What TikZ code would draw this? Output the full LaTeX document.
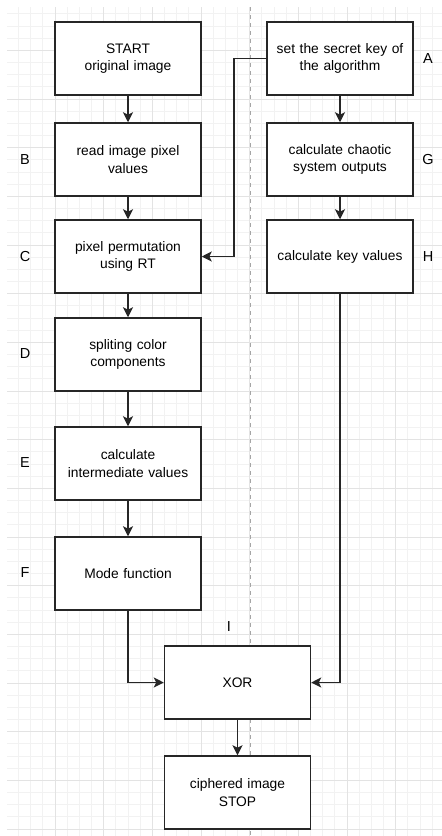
\documentclass[tikz,border=0pt]{standalone}
\usepackage{fontspec}
\setmainfont{Liberation Sans}
\usetikzlibrary{arrows.meta}
\begin{document}
\begin{tikzpicture}[x=1pt,y=-1pt,
  box/.style={draw=black!85, line width=1.5pt, fill=white, minimum width=146pt, minimum height=73pt, text width=142pt, align=center, inner sep=0pt, font=\fontsize{13.8}{17.5}\selectfont},
  lbl/.style={font=\fontsize{14.5}{16}\selectfont, inner sep=0pt},
  arr/.style={draw=black!85, line width=1.5pt, -{Stealth[length=10pt,width=10pt,inset=2.5pt]}},
  minorgrid/.style={draw=black!5, line width=0.8pt},
  majorgrid/.style={draw=black!11, line width=0.8pt},
  divider/.style={draw=black!35, line width=0.8pt, dash pattern=on 4pt off 4pt}]
\useasboundingbox (0,0) rectangle (442,836);
\fill[white] (0,0) rectangle (442,836);
% grid
\begin{scope}
\clip (7,7) rectangle (442,836);
\foreach \k in {-4,...,31} {\draw[minorgrid] ({55+12.1667*\k},0) -- ({55+12.1667*\k},836);}
\foreach \k in {-4,...,65} {\draw[minorgrid] (0,{50.3+12.1667*\k}) -- (442,{50.3+12.1667*\k});}
\foreach \k in {-1,...,8} {\draw[majorgrid] ({55+48.667*\k},0) -- ({55+48.667*\k},836);}
\foreach \k in {-1,...,16} {\draw[majorgrid] (0,{50.3+48.667*\k}) -- (442,{50.3+48.667*\k});}
\end{scope}
% divider
\coordinate (dtop) at (250.7,7);
\coordinate (dbot) at (250.7,836);
\draw[divider] (dtop) -- (dbot);
% boxes
\node[box] (start) at (128,58.5) {START\\original image};
\node[box] (read) at (128,159.5) {read image pixel\\values};
\node[box] (perm) at (128,256.5) {pixel permutation\\using RT};
\node[box] (split) at (128,354.5) {spliting color\\components};
\node[box] (inter) at (128,463.5) {calculate\\intermediate values};
\node[box] (mode) at (128,573.5) {Mode function};
\node[box] (key) at (340,58.5) {set the secret key of\\the algorithm};
\node[box] (chaos) at (340,159.5) {calculate chaotic\\system outputs};
\node[box] (keyval) at (340,256.5) {calculate key values};
\node[box] (xor) at (237.5,682.5) {XOR};
\node[box] (stop) at (237.5,792.5) {ciphered image\\STOP};
% letter labels
\node[lbl] (la) at (428,59) {A};
\node[lbl] (lb) at (25,160) {B};
\node[lbl] (lc) at (25,257) {C};
\node[lbl] (ld) at (25,354) {D};
\node[lbl] (le) at (25,463) {E};
\node[lbl] (lf) at (25,573) {F};
\node[lbl] (lg) at (428,160) {G};
\node[lbl] (lh) at (428,257) {H};
\node[lbl] (li) at (229,627) {I};
% connectors
\draw[arr] (start) -- (read);
\draw[arr] (read) -- (perm);
\draw[arr] (perm) -- (split);
\draw[arr] (split) -- (inter);
\draw[arr] (inter) -- (mode);
\draw[arr] (key) -- (chaos);
\draw[arr] (chaos) -- (keyval);
\draw[arr] (xor) -- (stop);
\coordinate (bend) at (234,58.5);
\draw[arr] (key.west) -- (bend) |- (perm.east);
\draw[arr] (keyval.south) |- (xor.east);
\draw[arr] (mode.south) |- (xor.west);
\end{tikzpicture}
\end{document}
